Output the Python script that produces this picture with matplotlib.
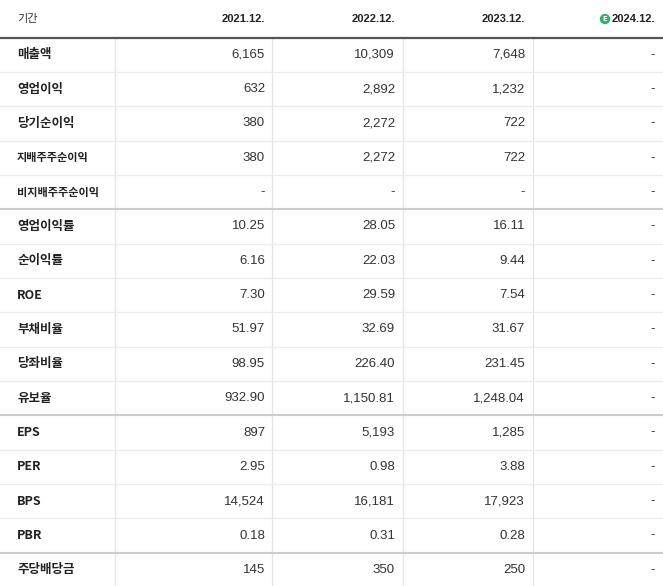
import matplotlib
matplotlib.use("Agg")
import matplotlib.pyplot as plt
from matplotlib.patches import Circle

periods = ["2021.12.", "2022.12.", "2023.12.", "2024.12."]
labels = ["매출액", "영업이익", "당기순이익", "지배주주순이익", "비지배주주순이익",
          "영업이익률", "순이익률", "ROE", "부채비율", "당좌비율", "유보율",
          "EPS", "PER", "BPS", "PBR", "주당배당금"]
v2021 = ["6,165", "632", "380", "380", "-", "10.25", "6.16", "7.30", "51.97", "98.95", "932.90",
         "897", "2.95", "14,524", "0.18", "145"]
v2022 = ["10,309", "2,892", "2,272", "2,272", "-", "28.05", "22.03", "29.59", "32.69", "226.40", "1,150.81",
         "5,193", "0.98", "16,181", "0.31", "350"]
v2023 = ["7,648", "1,232", "722", "722", "-", "16.11", "9.44", "7.54", "31.67", "231.45", "1,248.04",
         "1,285", "3.88", "17,923", "0.28", "250"]
v2024 = ["-"] * 16
group_breaks = [5, 11, 15]
small_labels = ["지배주주순이익", "비지배주주순이익"]

font = "Noto Sans CJK KR"
numfont = "Liberation Sans"
fig = plt.figure(figsize=(6.63, 5.86), dpi=100)
ax = fig.add_axes([0, 0, 1, 1])
ax.set_xlim(0, 663); ax.set_ylim(586, 0); ax.axis("off")

top = 37.5; pitch = 34.35
col_edges = [115, 272, 403, 533]
right_x = [265, 395, 525, 655]

# header
ax.text(17, 19, "기간", fontsize=8, family=font, va="center", color="#333")
for i, p in enumerate(periods):
    ax.text(right_x[i], 19, p, fontsize=8, family=numfont, va="center", ha="right",
            fontweight="bold", color="#222")
ax.add_patch(Circle((right_x[3] - 50, 19), 4.5, color="#2db46d", zorder=3))
ax.text(right_x[3] - 50, 19.3, "E", fontsize=5, color="white", ha="center", va="center",
        fontweight="bold", zorder=4)
ax.plot([0, 663], [top, top], color="#555555", lw=1.6)

for c in col_edges:
    ax.plot([c, c], [top, 586], color="#e4e4e4", lw=0.9, zorder=0)

cols = [v2021, v2022, v2023, v2024]
for r, lab in enumerate(labels):
    yc = top + pitch * (r + 0.5)
    fs = 8 if lab in small_labels else 9
    ax.text(17, yc, lab, fontsize=fs, family=font, va="center", color="#222",
            fontweight="bold")
    for i, col in enumerate(cols):
        ax.text(right_x[i], yc, col[r], fontsize=9.5, family=numfont, va="center", ha="right",
                color="#333")
    yb = top + pitch * (r + 1)
    if r + 1 in group_breaks:
        ax.plot([0, 663], [yb, yb], color="#cccccc", lw=1.5)
    elif r + 1 < len(labels):
        ax.plot([0, 663], [yb, yb], color="#ececec", lw=0.9)

fig.savefig("out.png", dpi=100)
